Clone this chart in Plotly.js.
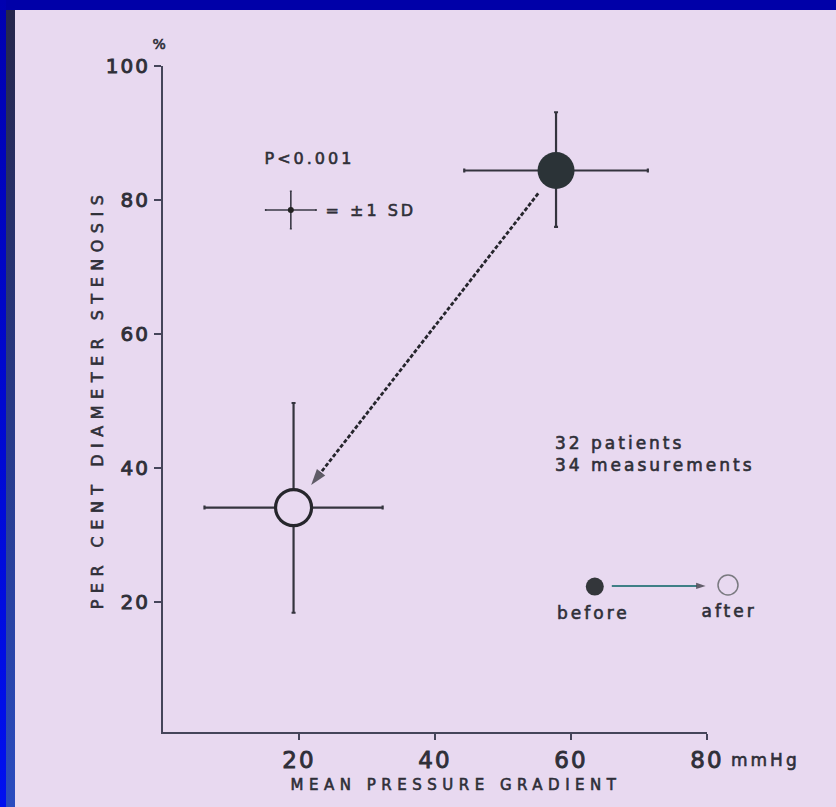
<!DOCTYPE html>
<html><head><meta charset="utf-8">
<script src="https://cdn.plot.ly/plotly-3.0.1.min.js"></script>
<style>
html,body{margin:0;padding:0;width:836px;height:807px;overflow:hidden;background:#0000a8;}
#leftbar{position:absolute;left:0;top:0;width:6px;height:807px;background:linear-gradient(#0000b0,#0010f0);}
#strip{position:absolute;left:6px;top:10px;width:9px;height:797px;background:linear-gradient(#26264c,#2a4cc0);}
#chart{position:absolute;left:15px;top:10px;width:821px;height:797px;}
#chart text{letter-spacing:3px;stroke:#2f2f38;stroke-width:0.6px;}
#chart .xtick text,#chart .ytick text{letter-spacing:2px;stroke-width:0.9px;}
#chart .ytitle{letter-spacing:6.5px;}
#chart .xtitle{letter-spacing:5.5px;transform:translate(21px,0);}
</style></head>
<body>
<div id="leftbar"></div><div id="strip"></div><div id="chart"></div>
<script>
// ---- data ----
const groups = ['before', 'after'];
const gradientMean = [57.8, 19.2];      // mean pressure gradient, mmHg
const gradientSD = [13.5, 13.1];        // ±1 SD
const stenosisMean = [84.4, 34.1];      // per cent diameter stenosis
const stenosisSDplus = [8.7, 15.6];
const stenosisSDminus = [8.4, 15.7];
const xTicks = [20, 40, 60, 80];
const yTicks = [20, 40, 60, 80, 100];
const sdKey = {x: 18.8, y: 78.5, ex: 3.7, ey: 2.8};

// ---- layout helpers (page pixel -> paper) ----
const PL = 163, PR = 707, PT = 66, PB = 732;
const px = p => (p - PL) / (PR - PL);
const py = p => (PB - p) / (PB - PT);

const BG = '#e8d9f0';
const INK = '#2f2f38';
const FONT = 'DejaVu Sans';

// arrow from before to after, trimmed at the circles
const t0 = 0.068, t1 = 0.933;
const ax0 = gradientMean[0] + t0 * (gradientMean[1] - gradientMean[0]);
const ay0 = stenosisMean[0] + t0 * (stenosisMean[1] - stenosisMean[0]);
const ax1 = gradientMean[0] + t1 * (gradientMean[1] - gradientMean[0]);
const ay1 = stenosisMean[0] + t1 * (stenosisMean[1] - stenosisMean[0]);

const errStyle = {type: 'data', color: '#34343e', thickness: 2.2, width: 2};

const traces = [
  { // dashed arrow
    x: [ax0, ax1], y: [ay0, ay1], mode: 'lines+markers', hoverinfo: 'skip',
    line: {color: '#25252c', width: 2.8, dash: '4px,2px'},
    marker: {symbol: ['circle', 'arrow'], size: [0, 17], angleref: 'previous', color: '#25252c', line: {width: 0}}
  },
  { // before
    name: groups[0], x: [gradientMean[0]], y: [stenosisMean[0]], mode: 'markers',
    marker: {size: 37, color: '#2b3337', line: {width: 0}},
    error_x: Object.assign({array: [gradientSD[0]]}, errStyle),
    error_y: Object.assign({array: [stenosisSDplus[0]], arrayminus: [stenosisSDminus[0]], symmetric: false}, errStyle)
  },
  { // after
    name: groups[1], x: [gradientMean[1]], y: [stenosisMean[1]], mode: 'markers',
    marker: {size: 36, color: BG, line: {width: 3.2, color: '#26262c'}},
    error_x: Object.assign({array: [gradientSD[1]]}, errStyle),
    error_y: Object.assign({array: [stenosisSDplus[1]], arrayminus: [stenosisSDminus[1]], symmetric: false}, errStyle)
  },
  { // ±1 SD key
    x: [sdKey.x], y: [sdKey.y], mode: 'markers', hoverinfo: 'skip',
    marker: {size: 6, color: '#222'},
    error_x: {type: 'data', array: [sdKey.ex], color: '#3a3a46', thickness: 1.6, width: 1},
    error_y: {type: 'data', array: [sdKey.ey], color: '#3a3a46', thickness: 1.6, width: 1}
  },
  { // legend: before dot
    x: [63.5], y: [22.3], mode: 'markers', hoverinfo: 'skip',
    marker: {size: 18, color: '#33363a'}
  },
  { // legend arrow
    x: [66, 79.8], y: [22.4, 22.4], mode: 'lines+markers', hoverinfo: 'skip', cliponaxis: false,
    line: {color: '#3f7f86', width: 2},
    marker: {symbol: ['circle', 'arrow'], size: [0, 10], angleref: 'previous', color: '#2a2a30', line: {width: 0}}
  }
];

const axisCommon = {
  showline: true, linecolor: '#45455a', linewidth: 2, showgrid: false, zeroline: false,
  ticks: 'outside', ticklen: 7, tickwidth: 2, tickcolor: '#45455a', fixedrange: true
};

const ann = (text, x, y, opts) => Object.assign({
  text, x: px(x), y: py(y), xref: 'paper', yref: 'paper', showarrow: false,
  xanchor: 'left', yanchor: 'middle', font: {family: FONT, size: 17, color: INK}
}, opts || {});

const layout = {
  width: 821, height: 797,
  margin: {l: PL - 15, r: 836 - PR, t: PT - 10, b: 807 - PB},
  paper_bgcolor: BG, plot_bgcolor: BG, showlegend: false,
  font: {family: FONT, color: INK},
  xaxis: Object.assign({}, axisCommon, {
    range: [0, 80], tickvals: xTicks, ticklen: 6,
    tickfont: {family: FONT, size: 23, color: INK},
    title: {text: 'MEAN PRESSURE GRADIENT', font: {family: FONT, size: 15, color: INK}, standoff: 8}
  }),
  yaxis: Object.assign({}, axisCommon, {
    range: [0.6, 100], tickvals: yTicks,
    tickfont: {family: FONT, size: 20, color: INK},
    title: {text: 'PER CENT DIAMETER STENOSIS', font: {family: FONT, size: 16, color: INK}, standoff: 4}
  }),
  annotations: [
    ann('%', 160, 44, {xanchor: 'center', font: {family: FONT, size: 14, color: INK}}),
    ann('P&lt;0.001', 273, 158, {font: {family: FONT, size: 16, color: INK}}),
    ann('= ±1 SD', 334, 210, {font: {family: FONT, size: 16, color: INK}}),
    ann('32 patients<br>34 measurements', 553, 454.5, {align: 'left'}),
    ann('before', 593.5, 613, {xanchor: 'center'}),
    ann('after', 729, 611, {xanchor: 'center'}),
    ann('mmHg', 735, 760, {font: {family: FONT, size: 17, color: INK}})
  ],
  shapes: [{
    type: 'circle', xref: 'paper', yref: 'paper',
    xsizemode: 'pixel', ysizemode: 'pixel', xanchor: px(728), yanchor: py(585),
    x0: -10, x1: 10, y0: -10, y1: 10,
    line: {color: '#7a7a80', width: 1.5}, fillcolor: BG
  }]
};

Plotly.newPlot('chart', traces, layout, {displayModeBar: false, staticPlot: true});
</script>
</body></html>
